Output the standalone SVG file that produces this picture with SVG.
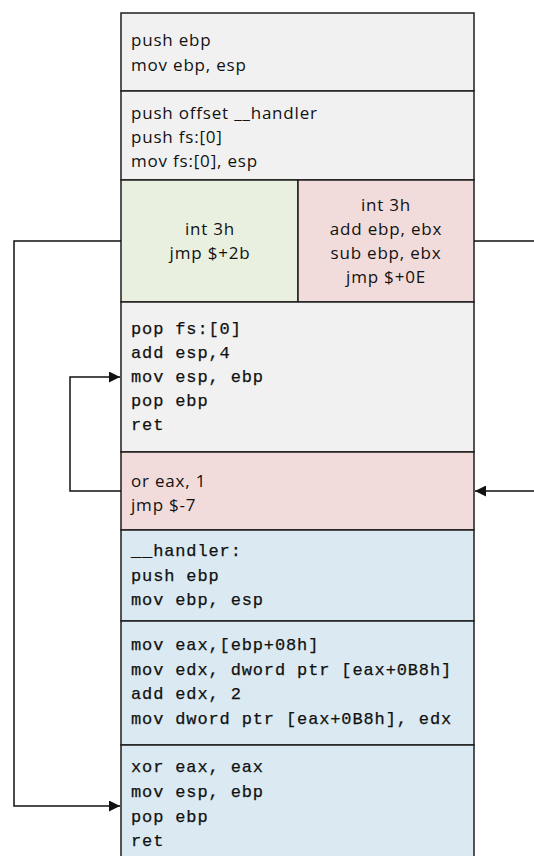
<svg xmlns="http://www.w3.org/2000/svg" width="534" height="856" viewBox="0 0 534 856">
<defs>
<style>
.box{stroke:#1e1e1e;stroke-width:1.5}
.gray{fill:#f1f1f1}
.green{fill:#e9f0e0}
.pink{fill:#f2dcdb}
.blue{fill:#dbeaf2}
.t{font-family:"Open Sans","Noto Sans","Liberation Sans",sans-serif;font-size:17px;letter-spacing:0.8px;fill:#111}
.c{font-family:"Liberation Mono","DejaVu Sans Mono",monospace;font-size:17px;letter-spacing:0.87px;fill:#111;stroke:#111;stroke-width:0.25}
.mid{text-anchor:middle}
.conn{fill:none;stroke:#111;stroke-width:1.5}
</style>
<marker id="arr" viewBox="0 0 10 10" refX="10" refY="5" markerWidth="11" markerHeight="11" markerUnits="userSpaceOnUse" orient="auto">
<path d="M0,0 L10,5 L0,10 z" fill="#111"/>
</marker>
</defs>
<rect x="0" y="0" width="534" height="856" fill="#ffffff"/>
<g id="node-prologue">
<rect class="box gray" x="121" y="13" width="353" height="78"/>
<text class="t" x="131" y="46">push ebp</text>
<text class="t" x="131" y="71">mov ebp, esp</text>
</g>
<g id="node-seh-install">
<rect class="box gray" x="121" y="91" width="353" height="89"/>
<text class="t" x="131" y="119">push offset __handler</text>
<text class="t" x="131" y="143">push fs:[0]</text>
<text class="t" x="131" y="167">mov fs:[0], esp</text>
</g>
<g id="node-int3-left">
<rect class="box green" x="121" y="180" width="177" height="122"/>
<text class="t mid" x="210" y="235">int 3h</text>
<text class="t mid" x="210" y="259">jmp $+2b</text>
</g>
<g id="node-int3-right">
<rect class="box pink" x="298" y="180" width="176" height="122"/>
<text class="t mid" x="386" y="211">int 3h</text>
<text class="t mid" x="386" y="235">add ebp, ebx</text>
<text class="t mid" x="386" y="259">sub ebp, ebx</text>
<text class="t mid" x="386" y="283">jmp $+0E</text>
</g>
<g id="node-epilogue">
<rect class="box gray" x="121" y="302" width="353" height="150"/>
<text class="c" x="131" y="334">pop fs:[0]</text>
<text class="c" x="131" y="358">add esp,4</text>
<text class="c" x="131" y="382">mov esp, ebp</text>
<text class="c" x="131" y="406">pop ebp</text>
<text class="c" x="131" y="430">ret</text>
</g>
<g id="node-or-eax">
<rect class="box pink" x="121" y="452" width="353" height="78"/>
<text class="t" x="131" y="487">or eax, 1</text>
<text class="t" x="131" y="511">jmp $-7</text>
</g>
<g id="node-handler">
<rect class="box blue" x="121" y="530" width="353" height="91"/>
<text class="c" x="131" y="556">__handler:</text>
<text class="c" x="131" y="581">push ebp</text>
<text class="c" x="131" y="605">mov ebp, esp</text>
</g>
<g id="node-handler-body">
<rect class="box blue" x="121" y="621" width="353" height="124"/>
<text class="c" x="131" y="650">mov eax,[ebp+08h]</text>
<text class="c" x="131" y="675">mov edx, dword ptr [eax+0B8h]</text>
<text class="c" x="131" y="699">add edx, 2</text>
<text class="c" x="131" y="724">mov dword ptr [eax+0B8h], edx</text>
</g>
<g id="node-handler-ret">
<rect class="box blue" x="121" y="745" width="353" height="120"/>
<text class="c" x="131" y="772">xor eax, eax</text>
<text class="c" x="131" y="797">mov esp, ebp</text>
<text class="c" x="131" y="822">pop ebp</text>
<text class="c" x="131" y="846">ret</text>
</g>
<g id="connectors">
<path class="conn" d="M121,241 H14 V806 H120" marker-end="url(#arr)"/>
<path class="conn" d="M474,241 H545 V491 H475" marker-end="url(#arr)"/>
<path class="conn" d="M121,491 H70 V377 H120" marker-end="url(#arr)"/>
</g>
</svg>
